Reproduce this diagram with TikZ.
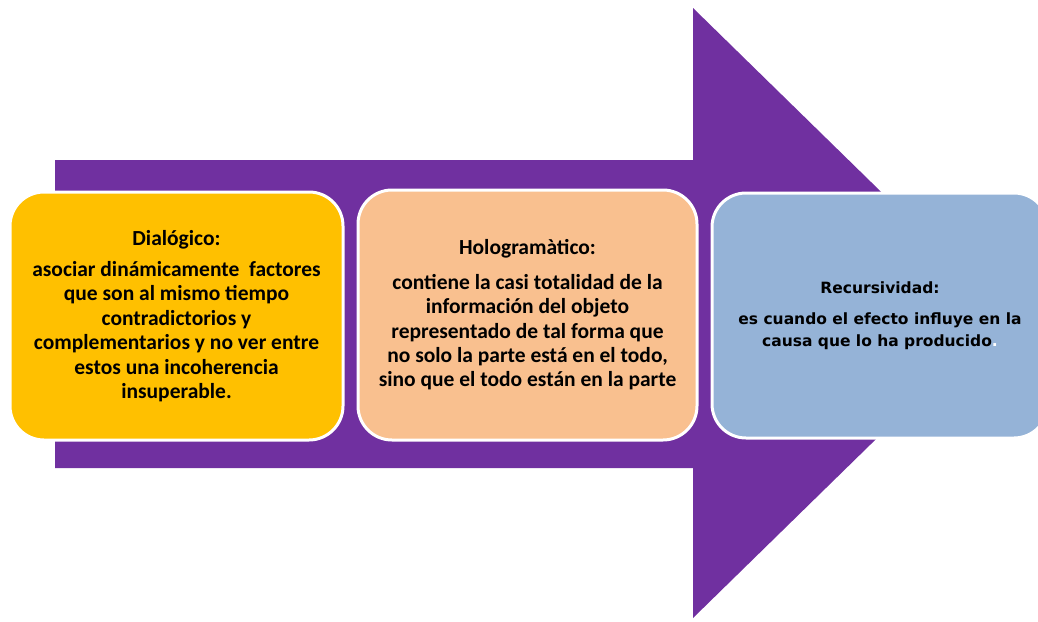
\documentclass[tikz,border=0pt]{standalone}
\usepackage{fontspec}
\setmainfont{Carlito}
\newfontfamily\dvfont{DejaVu Sans}
\definecolor{arrowpurple}{HTML}{7030A0}
\definecolor{boxorange}{HTML}{FFC000}
\definecolor{boxpeach}{HTML}{F9C08F}
\definecolor{boxblue}{HTML}{95B3D7}
\tikzset{
  infobox/.style={draw=white, line width=3pt, rounded corners=34pt, align=center, text=black, inner sep=0pt},
  cal/.style={font=\bfseries\fontsize{21.5}{24.4}\selectfont},
  dv/.style={font=\dvfont\bfseries\fontsize{15.5}{22}\selectfont}
}
\begin{document}
\begin{tikzpicture}[x=1pt,y=-1pt]
\useasboundingbox (0,0) rectangle (1038,621);
\clip (0,0) rectangle (1038,621);
\fill[arrowpurple] (55,160) -- (693,160) -- (693,8) -- (1005,313) -- (693,618) -- (693,468) -- (55,468) -- cycle;
\node[infobox, cal, fill=boxorange, minimum width=333pt, minimum height=248pt] (dia) at (176.5,316)
  {Dialógico:\\[7pt]asociar dinámicamente\ \ factores\\que son al mismo tiempo\\contradictorios y\\complementarios y no ver entre\\estos una incoherencia\\insuperable.};
\node[infobox, cal, fill=boxpeach, minimum width=339pt, minimum height=250pt] (holo) at (527.5,315)
  {Hologramàtico:\\[10pt]contiene la casi totalidad de la\\información del objeto\\representado de tal forma que\\no solo la parte está en el todo,\\sino que el todo están en la parte};
\node[infobox, dv, fill=boxblue, minimum width=336pt, minimum height=245pt] (rec) at (880,315.5)
  {Recursividad:\\[9pt]es cuando el efecto influye en la\\causa que lo ha producido\textcolor{white}{.}};
\end{tikzpicture}
\end{document}
